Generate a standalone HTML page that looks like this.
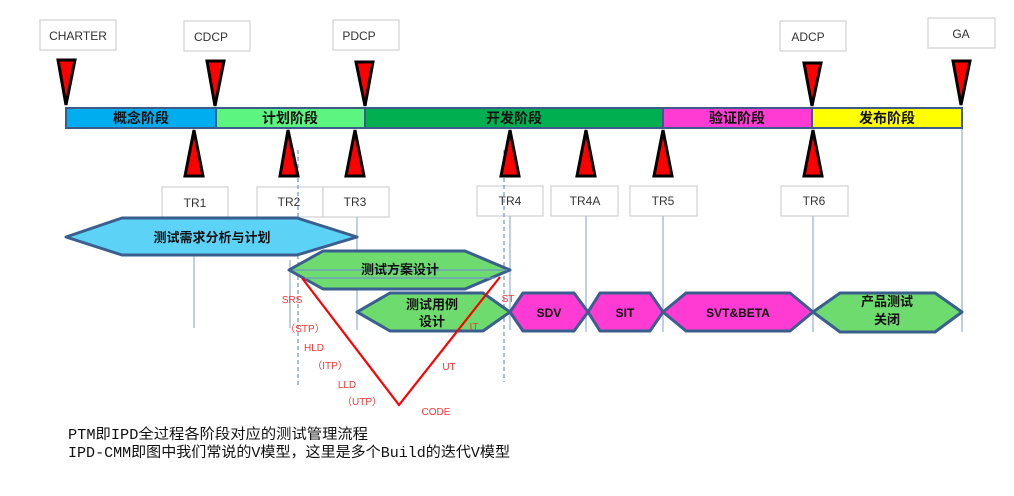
<!DOCTYPE html>
<html><head><meta charset="utf-8"><style>
html,body{margin:0;padding:0;background:#fff;}
svg{display:block;}
.b{font-family:"Liberation Sans","Noto Sans CJK SC",sans-serif;}
</style></head><body>
<svg width="1014" height="496" viewBox="0 0 1014 496" xmlns="http://www.w3.org/2000/svg" class="b">
<g fill="#fff" stroke="#d0d0d0" stroke-width="1.2">
<rect x="40" y="20" width="76" height="30"/>
<rect x="184" y="21" width="66" height="30"/>
<rect x="333" y="20" width="66" height="30"/>
<rect x="780" y="21" width="66" height="30"/>
<rect x="928" y="18" width="67" height="30"/>
<rect x="162" y="187" width="66" height="30"/>
<rect x="257" y="187" width="66" height="30"/>
<rect x="323" y="187" width="66" height="30"/>
<rect x="477" y="186" width="66" height="30"/>
<rect x="551" y="186" width="67" height="30"/>
<rect x="630" y="186" width="67" height="30"/>
<rect x="781" y="186" width="67" height="30"/>
</g>
<g font-size="12" fill="#333" text-anchor="middle">
<text x="78" y="40">CHARTER</text>
<text x="211" y="41">CDCP</text>
<text x="359" y="40">PDCP</text>
<text x="808" y="41">ADCP</text>
<text x="961" y="38">GA</text>
<text x="195" y="207">TR1</text>
<text x="289" y="206">TR2</text>
<text x="355" y="206">TR3</text>
<text x="510" y="205">TR4</text>
<text x="585" y="205">TR4A</text>
<text x="663" y="205">TR5</text>
<text x="814" y="205">TR6</text>
</g>
<g stroke="#9bb6da" stroke-width="1.3">
<line x1="194" y1="217" x2="194" y2="328"/>
<line x1="290" y1="260" x2="290" y2="328"/>
<line x1="357" y1="217" x2="357" y2="330"/>
<line x1="510" y1="216" x2="510" y2="330"/>
<line x1="586" y1="216" x2="586" y2="332"/>
<line x1="663" y1="216" x2="663" y2="332"/>
<line x1="813" y1="216" x2="813" y2="332"/>
<line x1="962" y1="128" x2="962" y2="332"/>
</g>
<g stroke="#6f95c8" stroke-width="1.2" stroke-dasharray="4,3">
<line x1="298" y1="150" x2="298" y2="388"/>
<line x1="504" y1="150" x2="504" y2="382"/>
</g>
<g stroke="#3c5a8a" stroke-width="2">
<rect x="66" y="108" width="150" height="20" fill="#00aeef"/>
<rect x="216" y="108" width="149" height="20" fill="#5cf580"/>
<rect x="365" y="108" width="298" height="20" fill="#00b050"/>
<rect x="663" y="108" width="149" height="20" fill="#ff3bd4"/>
<rect x="812" y="108" width="150" height="20" fill="#ffff00"/>
</g>
<g font-size="14" font-weight="bold" fill="#111" text-anchor="middle">
<text x="141" y="123">概念阶段</text>
<text x="290" y="123">计划阶段</text>
<text x="514" y="123">开发阶段</text>
<text x="737" y="123">验证阶段</text>
<text x="887" y="123">发布阶段</text>
</g>
<g fill="#ff0000" stroke="#000" stroke-width="3" stroke-linejoin="miter">
<polygon points="58,60 75,60 66,105"/>
<polygon points="207,61 224,61 215,106"/>
<polygon points="356,62 373,62 365,106"/>
<polygon points="804,63 821,63 812,106"/>
<polygon points="953,61 970,61 961,105"/>
<polygon points="185,176 203,176 194,130"/>
<polygon points="280,176 298,176 288,130"/>
<polygon points="346,176 364,176 355,130"/>
<polygon points="501,176 519,176 510,130"/>
<polygon points="577,176 595,176 586,130"/>
<polygon points="654,176 672,176 663,130"/>
<polygon points="804,176 822,176 813,130"/>
</g>
<g stroke="#3a5f8f" stroke-width="3" stroke-linejoin="round">
<polygon points="66,237 122,218 297,218 357,237 297,255 122,255" fill="#5dd2f7"/>
<polygon points="289,270 323,251 465,251 510,270 465,289 323,289" fill="#6ddb6d"/>
<polygon points="357,312 390,293 483,293 510,312 483,331 390,331" fill="#6ddb6d"/>
<polygon points="510,312 523,293 574,293 588,312 574,331 523,331" fill="#ff3bd4"/>
<polygon points="588,312 600,293 650,293 663,312 650,331 600,331" fill="#ff3bd4"/>
<polygon points="663,312 686,293 790,293 813,312 790,331 686,331" fill="#ff3bd4"/>
<polygon points="813,312 840,293 935,293 962,312 935,332 840,332" fill="#6ddb6d"/>
</g>
<g stroke="#6f95c8" stroke-width="1.2">
<line x1="292" y1="270" x2="507" y2="270"/>
<line x1="305" y1="278" x2="495" y2="278"/>
</g>
<g font-size="13" font-weight="bold" fill="#111" text-anchor="middle">
<text x="212" y="242">测试需求分析与计划</text>
<text x="400" y="274">测试方案设计</text>
<text x="432" y="309">测试用例</text>
<text x="432" y="326">设计</text>
<text x="549" y="317" font-size="12">SDV</text>
<text x="625" y="317" font-size="12">SIT</text>
<text x="738" y="317" font-size="12">SVT&amp;BETA</text>
<text x="887" y="306">产品测试</text>
<text x="887" y="324">关闭</text>
</g>
<polyline points="302,278 399,405 500,277" fill="none" stroke="#ff0000" stroke-width="2.2"/>
<g font-size="10" fill="#ff3030" text-anchor="middle">
<text x="292" y="303">SRS</text>
<text x="305" y="332">（STP）</text>
<text x="314" y="351">HLD</text>
<text x="330" y="369">（ITP）</text>
<text x="347" y="388">LLD</text>
<text x="362" y="405">（UTP）</text>
<text x="436" y="415">CODE</text>
<text x="449" y="370">UT</text>
<text x="474" y="330">IT</text>
<text x="508" y="302">ST</text>
</g>
<g font-family="'Liberation Mono','Noto Sans CJK SC',monospace" font-size="14.5" fill="#111">
<text x="68" y="439" textLength="300" lengthAdjust="spacingAndGlyphs">PTM即IPD全过程各阶段对应的测试管理流程</text>
<text x="68" y="457" textLength="442" lengthAdjust="spacingAndGlyphs">IPD-CMM即图中我们常说的V模型，这里是多个Build的迭代V模型</text>
</g>
</svg>
</body></html>
